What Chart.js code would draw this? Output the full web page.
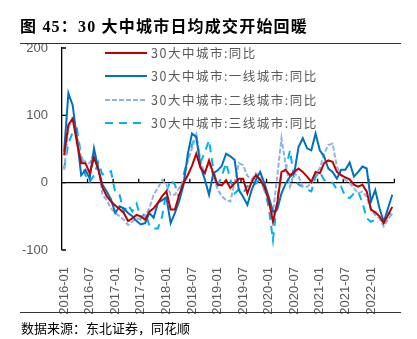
<!DOCTYPE html>
<html>
<head>
<meta charset="utf-8">
<script src="https://cdn.jsdelivr.net/npm/chart.js@4.4.0/dist/chart.umd.min.js"></script>
<style>
  body { margin: 0; background: #fff; }
  #wrap { position: relative; width: 417px; height: 339px; overflow: hidden; }
  #chart { position: absolute; left: 0; top: 0; }
  #title { position: absolute; left: 20px; top: 13px; line-height: 20px; font: bold 16px "Liberation Serif", "Noto Sans CJK SC", serif; letter-spacing: 1.2px; color: #000; white-space: nowrap; }
  .rule { position: absolute; left: 20px; width: 381px; height: 1px; background: #333; }
  #source { position: absolute; left: 21px; top: 318px; line-height: 18px; font: 13px "Noto Sans CJK SC", sans-serif; color: #000; white-space: nowrap; }
  #legend { position: absolute; left: 105px; top: 43px; }
  #legend .row { position: absolute; left: 0; height: 20px; white-space: nowrap; }
  #legend svg { position: absolute; left: 0; top: 0; }
  #legend span { position: absolute; left: 46px; top: 0; line-height: 20px; font: 12.5px "Noto Sans CJK SC", sans-serif; letter-spacing: 1.5px; color: #595959; }
</style>
</head>
<body>
<div id="wrap">
  <canvas id="chart" width="417" height="339"></canvas>
  <div id="title">图 45：30 大中城市日均成交开始回暖</div>
  <div class="rule" style="top:43px"></div>
  <div id="legend"></div>
  <div class="rule" style="top:312px"></div>
  <div id="source">数据来源：东北证券，同花顺</div>
</div>
<script>
// months 2016-01 .. 2022-06
const months = [
  '2016-01','2016-02','2016-03','2016-04','2016-05','2016-06','2016-07','2016-08','2016-09','2016-10','2016-11','2016-12',
  '2017-01','2017-02','2017-03','2017-04','2017-05','2017-06','2017-07','2017-08','2017-09','2017-10','2017-11','2017-12',
  '2018-01','2018-02','2018-03','2018-04','2018-05','2018-06','2018-07','2018-08','2018-09','2018-10','2018-11','2018-12',
  '2019-01','2019-02','2019-03','2019-04','2019-05','2019-06','2019-07','2019-08','2019-09','2019-10','2019-11','2019-12',
  '2020-01','2020-02','2020-03','2020-04','2020-05','2020-06','2020-07','2020-08','2020-09','2020-10','2020-11','2020-12',
  '2021-01','2021-02','2021-03','2021-04','2021-05','2021-06','2021-07','2021-08','2021-09','2021-10','2021-11','2021-12',
  '2022-01','2022-02','2022-03','2022-04','2022-05','2022-06'
];
const tickLabels = ['2016-01','2016-07','2017-01','2017-07','2018-01','2018-07','2019-01',
  '2019-07','2020-01','2020-07','2021-01','2021-07','2022-01'];

const seriesNames = ['30大中城市:同比', '30大中城市:一线城市:同比', '30大中城市:二线城市:同比', '30大中城市:三线城市:同比'];
const seriesColors = ['#C00000', '#0070C0', '#8EB4E3', '#00B0F0'];
const seriesDash = [[], [], [5, 2], [8, 6]];

// 30大中城市:同比
const allCities = [41, 86, 95, 60, 29, 29, 14, 37, 20, -7,
  -20, -28, -34, -39, -45, -57, -53, -48, -50, -55,
  -43, -38, -30, -20, -13, -40, -40, -18, -1, 11,
  25, 43, 22, 14, 33, 14, -3, -4, 4, -8,
  -1, 6, 6, -16, 1, 11, 4, -6, -26, -58,
  -31, 16, 19, 11, 16, 21, 16, 9, 1, 16,
  14, 29, 33, 31, 16, 11, 8, 5, -3, -6,
  -3, -13, -40, -44, -50, -60, -48, -36];
// 一线城市
const tier1 = [46, 133, 115, 66, 11, 19, 6, 51, 21, -3,
  -13, -25, -45, -35, -38, -45, -50, -57, -62, -60,
  -45, -52, -30, -26, -22, -60, -45, -27, -4, 42,
  73, 68, 24, 5, -18, 14, 18, 25, 43, 39,
  34, -11, -21, -33, -11, 4, 16, -1, -21, -43,
  -40, -16, -1, 9, 14, 53, 66, 51, 48, 73,
  48, 39, 21, 16, 6, 19, 19, 30, 9, 16,
  24, 21, -28, -11, -38, -58, -38, -18];
// 二线城市
const tier2 = [19, 80, 98, 71, 36, 31, 29, 43, 26, -18,
  -26, -38, -45, -50, -55, -63, -58, -53, -55, -50,
  -38, -18, -8, 4, -3, -18, -18, -8, 1, 31,
  51, 71, 31, 14, 30, 10, -10, -20, -26, -28,
  0, 29, 26, 10, 5, 14, 9, -11, -26, -45,
  9, 66, 26, -6, 14, 9, -6, -6, -1, 14,
  21, 43, 56, 58, 24, 11, 4, -1, -8, -16,
  -13, -21, -40, -48, -53, -65, -55, -45];
// 三线城市
const tier3 = [21, 58, 75, 80, 40, 11, 1, 11, 30, 12,
  14, 17, -15, -18, -43, -33, -43, -31, -53, -45,
  -63, -68, -68, -50, -13, 4, -3, -23, 11, 36,
  56, 71, 30, 45, 63, 20, -5, 10, 29, 5,
  -16, -10, -16, -5, -5, -1, 5, -11, -36, -85,
  -26, 14, 20, 48, 4, -3, -6, -10, -13, 9,
  16, 4, 0, 0, -10, -6, -21, -23, -16, -13,
  -30, -53, -58, -55, -55, -58, -45, -48];

const seriesData = [allCities, tier1, tier2, tier3];

// legend drawn in html, inside the plot area
const legendBox = document.getElementById('legend');
seriesNames.forEach((name, k) => {
  const row = document.createElement('div');
  row.className = 'row';
  row.style.top = (k * 23.3) + 'px';
  row.innerHTML = '<svg width="42" height="20"><line x1="0" y1="10" x2="42" y2="10" stroke="' + seriesColors[k] +
    '" stroke-width="2" stroke-dasharray="' + (seriesDash[k].length ? seriesDash[k].join(' ') : 'none') + '"/></svg><span>' + name + '</span>';
  legendBox.appendChild(row);
});

// small tick marks: x ticks point up from the zero line, y ticks point inward
const axisTicks = {
  id: 'axisTicks',
  beforeDatasetsDraw(chart) {
    const { ctx, chartArea } = chart;
    const x = chart.scales.x, y = chart.scales.y;
    const y0 = y.getPixelForValue(0);
    ctx.save();
    ctx.strokeStyle = '#000';
    ctx.lineWidth = 1.3;
    ctx.beginPath();
    months.forEach((m, i) => {
      if (i > 0 && tickLabels.includes(m)) {
        const px = x.getPixelForValue(i - 0.5);
        ctx.moveTo(px, y0);
        ctx.lineTo(px, y0 - 4);
      }
    });
    const pEnd = x.getPixelForValue(months.length - 0.5);
    ctx.moveTo(pEnd, y0);
    ctx.lineTo(pEnd, y0 - 4);
    y.ticks.forEach(t => {
      const py = y.getPixelForValue(t.value);
      ctx.moveTo(chartArea.left, py);
      ctx.lineTo(chartArea.left + 4, py);
    });
    ctx.stroke();
    ctx.restore();
  }
};

const tickFont = { family: '"Liberation Sans", Arial, sans-serif', size: 13 };

const ctx = document.getElementById('chart').getContext('2d');
new Chart(ctx, {
  type: 'line',
  data: {
    labels: months,
    datasets: seriesNames.map((name, k) => ({
      label: name,
      data: seriesData[k],
      borderColor: seriesColors[k],
      borderWidth: 2,
      borderDash: seriesDash[k],
      pointRadius: 0,
      tension: 0,
      fill: false
    }))
  },
  options: {
    responsive: false,
    animation: false,
    devicePixelRatio: 1,
    layout: { padding: { left: 0, top: 48, right: 19, bottom: 0 } },
    plugins: { legend: { display: false }, tooltip: { enabled: false } },
    scales: {
      x: {
        offset: true,
        grid: { display: false },
        border: { display: false },
        ticks: {
          autoSkip: false,
          minRotation: 90,
          maxRotation: 90,
          padding: 9,
          color: '#595959',
          font: tickFont,
          callback: (v, i) => tickLabels.includes(months[i]) ? months[i] : ''
        },
        afterFit: s => { s.height = 89; }
      },
      y: {
        min: -100,
        max: 200,
        ticks: { stepSize: 100, padding: 14, color: '#595959', font: tickFont },
        grid: {
          drawTicks: false,
          color: c => (c.tick && c.tick.value === 0) ? '#000' : 'rgba(0,0,0,0)',
          lineWidth: 1.3
        },
        border: { color: '#000', width: 1.3 },
        afterFit: s => { s.width = 62; }
      }
    }
  },
  plugins: [axisTicks]
});
</script>
</body>
</html>
